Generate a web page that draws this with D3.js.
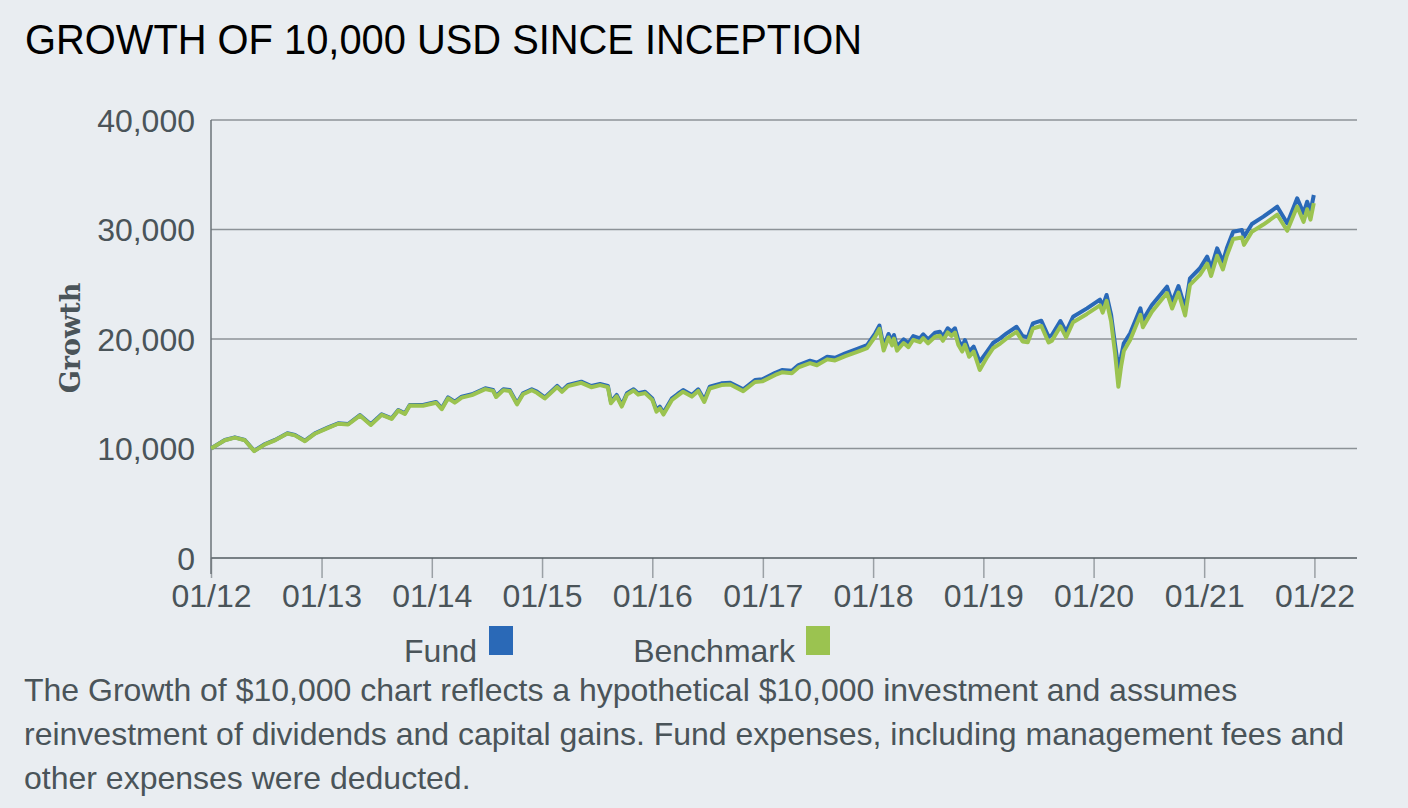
<!DOCTYPE html>
<html>
<head>
<meta charset="utf-8">
<script src="https://cdn.jsdelivr.net/npm/d3@7"></script>
<style>
  html, body { margin: 0; padding: 0; background: #e9edf1; }
  svg { display: block; }
</style>
</head>
<body>
<svg id="chart" width="1408" height="808"></svg>
<script>
// ---- data ----
const dates = [
"2012-01-01","2012-02-16","2012-03-20","2012-04-22","2012-05-23","2012-06-28","2012-07-31","2012-09-10","2012-10-05","2012-11-07","2012-12-10",
"2013-01-23","2013-02-25","2013-03-30","2013-05-08","2013-06-13","2013-07-19","2013-08-21","2013-09-12","2013-10-04","2013-10-20","2013-12-03",
"2014-01-15","2014-02-03","2014-02-24","2014-03-18","2014-04-10","2014-05-14","2014-06-27","2014-07-23","2014-08-02","2014-08-26","2014-09-16","2014-10-10","2014-10-30","2014-11-28","2014-12-15",
"2015-01-10","2015-01-27","2015-02-20","2015-03-08","2015-03-28","2015-05-11","2015-06-13","2015-07-12","2015-08-07","2015-08-17","2015-09-05","2015-09-22","2015-10-09","2015-10-31","2015-11-15","2015-12-08",
"2016-01-01","2016-01-15","2016-01-26","2016-02-07","2016-03-06","2016-03-25","2016-04-12","2016-05-11","2016-06-01","2016-06-21","2016-07-09","2016-08-17","2016-09-15","2016-10-28","2016-12-06","2016-12-30",
"2017-02-11","2017-03-05","2017-04-07","2017-04-29","2017-06-06","2017-06-29","2017-08-02","2017-08-28","2017-10-01","2017-11-14","2017-12-12",
"2018-01-08","2018-01-22","2018-02-05","2018-02-21","2018-03-05","2018-03-11","2018-03-21","2018-04-12","2018-04-28","2018-05-14","2018-06-05","2018-06-16","2018-07-02","2018-07-25","2018-08-10","2018-08-20","2018-09-05","2018-09-18","2018-09-29","2018-10-10","2018-10-23","2018-11-01","2018-11-15","2018-11-30","2018-12-20",
"2019-01-13","2019-02-03","2019-02-26","2019-03-19","2019-04-21","2019-05-11","2019-05-28","2019-06-14","2019-07-12","2019-08-05","2019-08-16","2019-09-13","2019-10-02","2019-10-25","2019-12-10",
"2020-01-22","2020-01-31","2020-02-13","2020-02-28","2020-03-12","2020-03-23","2020-04-01","2020-04-10","2020-05-01","2020-06-04","2020-06-12","2020-07-12","2020-08-31","2020-09-17","2020-10-08","2020-10-30","2020-11-15","2020-12-18",
"2021-01-11","2021-01-24","2021-02-13","2021-03-04","2021-03-17","2021-04-07","2021-05-06","2021-05-13","2021-06-08","2021-07-16","2021-08-31","2021-10-03","2021-11-05","2021-11-26","2021-12-08","2021-12-19","2021-12-30"
];
const fundValues = [
10000,10780,11020,10780,9800,10410,10780,11390,11230,10710,11390,
11930,12300,12240,13060,12210,13120,12760,13510,13210,13970,13970,
14250,13670,14670,14270,14730,14950,15500,15340,14790,15410,15340,14130,15040,15410,15190,
14670,15100,15710,15280,15800,16100,15710,15890,15710,14270,14890,13970,15040,15410,15040,15190,
14580,13520,13820,13270,14580,14980,15340,14890,15410,14430,15640,15950,16010,15410,16250,16320,
16920,17170,17100,17620,18020,17830,18380,18290,18690,19150,19450,
20520,21230,19300,20460,19760,20370,19300,19970,19610,20270,20060,20430,19970,20570,20670,20210,20980,20670,20980,19910,19300,19910,18840,19300,17930,
18840,19660,20060,20520,21120,20270,20150,21430,21670,20210,20370,21640,20670,22030,22800,
23600,22950,24020,22190,19500,17320,18380,19610,20520,22800,21730,23100,24780,23400,24840,22800,25540,26460,
27520,26460,28280,27060,28280,29800,29950,29340,30500,31170,32080,30560,32850,31480,32540,31620,33150
];
const benchmarkValues = [
10000,10750,10990,10750,9760,10380,10750,11360,11200,10670,11350,
11890,12260,12190,13010,12150,13070,12700,13460,13150,13920,13910,
14180,13590,14590,14190,14650,14870,15420,15260,14700,15330,15250,14030,14950,15320,15090,
14570,15000,15610,15180,15700,16000,15600,15790,15600,14130,14770,13830,14920,15290,14920,15060,
14440,13360,13670,13100,14430,14830,15190,14740,15260,14250,15480,15790,15840,15240,16070,16130,
16720,16960,16880,17400,17790,17600,18140,18040,18430,18880,19170,
20230,20930,18950,20140,19420,20040,18940,19630,19260,19930,19710,20080,19610,20210,20300,19830,20600,20280,20590,19480,18850,19480,18380,18850,17170,
18330,19180,19590,20050,20650,19780,19700,20960,21190,19680,19850,21150,20150,21530,22290,
23070,22410,23480,21580,18700,15640,17500,18900,19900,22200,21080,22500,24200,22780,24240,22150,24950,25850,
26880,25750,27600,26350,27600,29130,29270,28600,29800,30450,31350,29880,32100,30700,31850,30900,32400
];
const yTicks = [0, 10000, 20000, 30000, 40000];
const xTickLabels = ["01/12","01/13","01/14","01/15","01/16","01/17","01/18","01/19","01/20","01/21","01/22"];
const seriesNames = ["Fund", "Benchmark"];
const seriesColors = ["#2a69b7", "#9bc350"];

// ---- layout ----
const svg = d3.select("#chart");
const pL = 211, pR = 1357, pT = 120, pB = 558;
const parse = d3.timeParse("%Y-%m-%d");
const x = d3.scaleTime()
  .domain([parse("2012-01-01"), parse("2022-05-22")])
  .range([pL, pR]);
const y = d3.scaleLinear().domain([0, 40000]).range([pB, pT]);

const textColor = "#4a5459";
const font = "'Liberation Sans', Arial, sans-serif";

svg.append("rect").attr("width", 1408).attr("height", 808).attr("fill", "#e9edf1");

// title
svg.append("text")
  .attr("x", 25).attr("y", 54)
  .attr("font-family", font)
  .attr("font-size", 42)
  .attr("textLength", 837)
  .attr("lengthAdjust", "spacingAndGlyphs")
  .attr("fill", "#000")
  .text("GROWTH OF 10,000 USD SINCE INCEPTION");

// grid lines
svg.append("g").selectAll("line")
  .data(yTicks.filter(d => d > 0))
  .join("line")
  .attr("x1", pL).attr("x2", pR)
  .attr("y1", d => y(d)).attr("y2", d => y(d))
  .attr("stroke", "#8c9297").attr("stroke-width", 1.5);

// y labels
svg.append("g").selectAll("text")
  .data(yTicks)
  .join("text")
  .attr("x", pL - 16)
  .attr("y", d => y(d))
  .attr("dy", "0.36em")
  .attr("text-anchor", "end")
  .attr("font-family", font)
  .attr("font-size", 32)
  .attr("fill", textColor)
  .text(d => d3.format(",")(d));

// x axis
const tickDates = xTickLabels.map(s => new Date(2000 + (+s.slice(3)), 0, 1));
const xAxis = d3.axisBottom(x)
  .tickValues(tickDates)
  .tickSize(20)
  .tickPadding(6)
  .tickFormat((d, i) => xTickLabels[i]);
const gx = svg.append("g").attr("transform", `translate(0,${pB})`).call(xAxis);
gx.select(".domain").remove();
gx.selectAll(".tick line").attr("stroke", "#9aa0a5").attr("stroke-width", 1.5);
gx.selectAll(".tick text")
  .attr("font-family", font).attr("font-size", 32).attr("fill", textColor);

svg.append("line")
  .attr("x1", pL).attr("x2", pR).attr("y1", pB).attr("y2", pB)
  .attr("stroke", "#525b61").attr("stroke-width", 1.5);
svg.append("line")
  .attr("x1", pL).attr("x2", pL).attr("y1", pT).attr("y2", pB + 16)
  .attr("stroke", "#6b7378").attr("stroke-width", 1.5);

// axis title
svg.append("text")
  .attr("transform", "translate(80,338) rotate(-90)")
  .attr("text-anchor", "middle")
  .attr("font-family", "'DejaVu Serif', serif")
  .attr("font-weight", "bold")
  .attr("font-size", 27)
  .attr("fill", "#4a5459")
  .text("Growth");

// lines
const series = [
  dates.map((d, i) => ({ date: parse(d), value: fundValues[i] })),
  dates.map((d, i) => ({ date: parse(d), value: benchmarkValues[i] }))
];
const line = d3.line().x(d => x(d.date)).y(d => y(d.value));
svg.append("g").selectAll("path")
  .data(series)
  .join("path")
  .attr("d", line)
  .attr("fill", "none")
  .attr("stroke", (d, i) => seriesColors[i])
  .attr("stroke-width", 4)
  .attr("stroke-linejoin", "round");

// legend
const legendPos = [{ textEnd: 477, sqX: 489 }, { textEnd: 795, sqX: 806 }];
const lg = svg.append("g");
seriesNames.forEach((name, i) => {
  lg.append("text")
    .attr("x", legendPos[i].textEnd).attr("y", 662)
    .attr("text-anchor", "end")
    .attr("font-family", font).attr("font-size", 32)
    .attr("fill", textColor)
    .text(name);
  lg.append("rect")
    .attr("x", legendPos[i].sqX).attr("y", 626)
    .attr("width", 24).attr("height", 29)
    .attr("fill", seriesColors[i]);
});

// footnote
const foot = [
  "The Growth of $10,000 chart reflects a hypothetical $10,000 investment and assumes",
  "reinvestment of dividends and capital gains. Fund expenses, including management fees and",
  "other expenses were deducted."
];
svg.append("g").selectAll("text")
  .data(foot)
  .join("text")
  .attr("x", 24)
  .attr("y", (d, i) => 701 + i * 44)
  .attr("font-family", font).attr("font-size", 32)
  .attr("fill", textColor)
  .text(d => d);
</script>
</body>
</html>
